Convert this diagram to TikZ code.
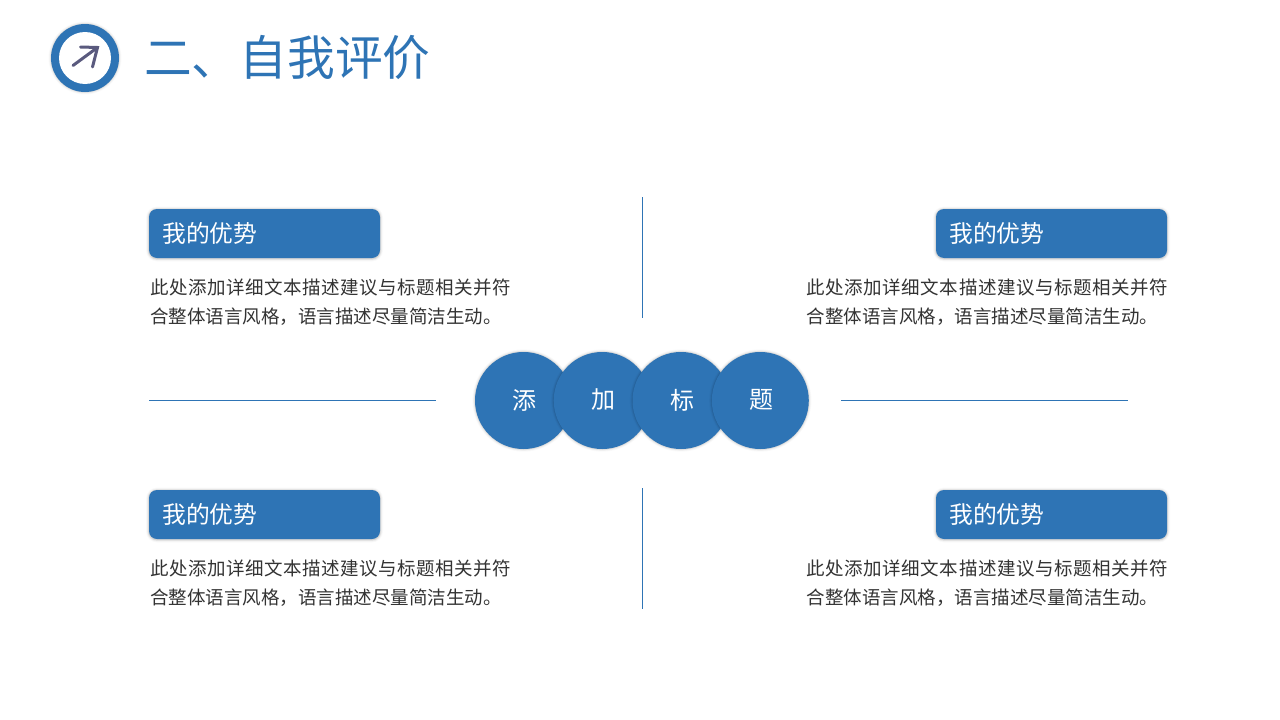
\documentclass[tikz,border=0pt]{standalone}
\usepackage{fontspec}
\setmainfont{Noto Sans CJK SC}
\newfontfamily\cjk{Noto Sans CJK SC}
\newfontfamily\cjkwide[LetterSpace=2.9]{Noto Sans CJK SC}
\definecolor{brandblue}{HTML}{2E74B5}
\definecolor{bodyink}{HTML}{333333}
\definecolor{arrowink}{HTML}{5A5A7E}
\newcommand{\softring}[3]{% x,y,r
  \foreach \e/\o in {3.0/0.02,2.2/0.03,1.4/0.05,0.7/0.07}{
    \fill[black,opacity=\o] (#1,#2) circle ({#3+\e});
  }}
\newcommand{\softbox}[4]{% x1,y1,x2,y2
  \foreach \e/\o in {3.0/0.02,2.2/0.03,1.4/0.05,0.7/0.07}{
    \fill[black,opacity=\o,rounded corners={8pt+\e pt}] ({#1-\e},{#2-\e+.5}) rectangle ({#3+\e},{#4+\e+.5});
  }}
\newcommand{\bodylines}{{\cjkwide 此处添加详细文本描述建议与标题相关并符}\\合整体语言风格，语言描述尽量简洁生动。}
\tikzset{
  x=1pt,y=-1pt,
  headbox/.style={fill=brandblue,draw=none,rounded corners=8pt,minimum width=231pt,minimum height=49pt,inner sep=0pt,outer sep=0pt,anchor=north west},
  headtext/.style={text=white,font=\cjk\fontsize{23.8pt}{28pt}\selectfont,inner sep=0pt,anchor=west},
  bodytext/.style={text=bodyink,font=\cjk\fontsize{18.5pt}{29pt}\selectfont,inner sep=0pt,anchor=north west,align=left},
  disc/.style={circle,fill=brandblue,draw=none,minimum size=97pt,inner sep=0pt,outer sep=0pt},
  disctext/.style={text=white,font=\cjk\fontsize{24pt}{28pt}\selectfont,inner sep=0pt},
  rule/.style={draw=brandblue,line width=1pt},
  titletext/.style={text=brandblue,font=\cjk\fontsize{47.7pt}{52pt}\selectfont,inner sep=0pt,anchor=west},
}
\begin{document}
\begin{tikzpicture}
\useasboundingbox (0,0) rectangle (1280,720);
\fill[white] (0,0) rectangle (1280,720);
% icon
\softring{85}{58}{33.5}
\node[circle,fill=brandblue,minimum size=68pt,inner sep=0pt] (iconring) at (85,58) {};
\node[circle,fill=white,minimum size=52pt,inner sep=0pt] (iconface) at (85,58) {};
\coordinate (arrowtail) at (73,65.5);
\coordinate (arrowtip) at (97.5,47.5);
\coordinate (arrowa) at (80.5,47);
\coordinate (arrowb) at (92.5,67);
\draw[arrowink,line width=3pt,line cap=round] (arrowtail) -- (arrowtip);
\draw[arrowink,line width=3pt,line cap=round,line join=miter] (arrowa) -- (arrowtip) -- (arrowb);
\node[titletext] (title) at (144,58) {二、自我评价};
% rules
\coordinate (vta) at (642.5,197); \coordinate (vtb) at (642.5,318);
\coordinate (vba) at (642.5,488); \coordinate (vbb) at (642.5,609);
\coordinate (hla) at (149,400.5); \coordinate (hlb) at (436,400.5);
\coordinate (hra) at (841,400.5); \coordinate (hrb) at (1128,400.5);
\draw[rule] (vta) -- (vtb);
\draw[rule] (vba) -- (vbb);
\draw[rule] (hla) -- (hlb);
\draw[rule] (hra) -- (hrb);
% head boxes
\softbox{149}{209}{380}{258}
\softbox{936}{209}{1167}{258}
\softbox{149}{490}{380}{539}
\softbox{936}{490}{1167}{539}
\node[headbox] (boxa) at (149,209) {};
\node[headbox] (boxb) at (936,209) {};
\node[headbox] (boxc) at (149,490) {};
\node[headbox] (boxd) at (936,490) {};
\node[headtext] (heada) at (162,233) {我的优势};
\node[headtext] (headb) at (949,233) {我的优势};
\node[headtext] (headc) at (162,514) {我的优势};
\node[headtext] (headd) at (949,514) {我的优势};
% body text
\node[bodytext] (bodya) at (150,279) {\bodylines};
\node[bodytext] (bodyb) at (806.5,279) {\bodylines};
\node[bodytext] (bodyc) at (150,560) {\bodylines};
\node[bodytext] (bodyd) at (806.5,560) {\bodylines};
% discs
\softring{523.5}{400.5}{48.2}
\node[disc] (disca) at (523.5,400.5) {};
\softring{602.2}{400.5}{48.2}
\node[disc] (discb) at (602.2,400.5) {};
\softring{681}{400.5}{48.2}
\node[disc] (discc) at (681,400.5) {};
\softring{760.3}{400.5}{48.2}
\node[disc] (discd) at (760.3,400.5) {};
\node[disctext] (texta) at (524,400) {添};
\node[disctext] (textb) at (603,400) {加};
\node[disctext] (textc) at (682,400) {标};
\node[disctext] (textd) at (761,400) {题};
\end{tikzpicture}
\end{document}
